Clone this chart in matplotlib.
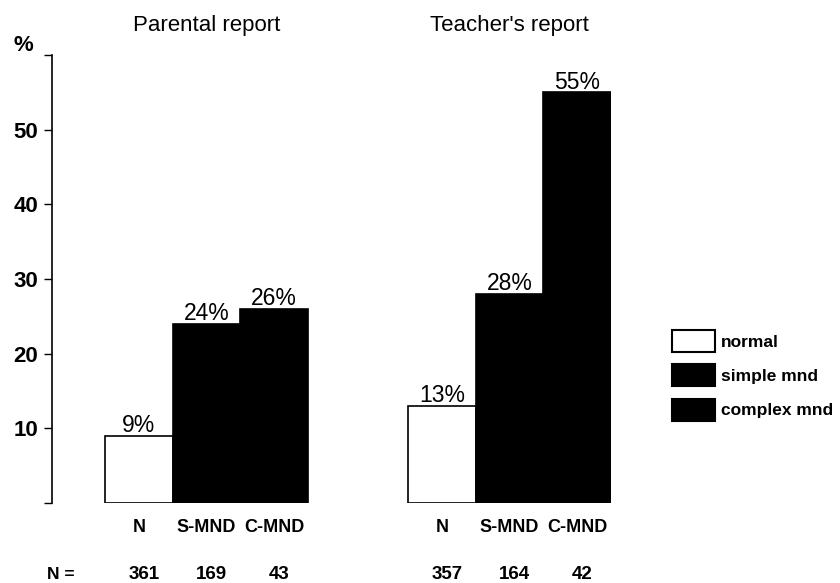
import matplotlib
matplotlib.use('Agg')
import matplotlib.pyplot as plt
from matplotlib.patches import Patch

plt.rcParams['font.family'] = ['Liberation Sans', 'DejaVu Sans']

reports = ['Parental report', "Teacher's report"]
categories = ['N', 'S-MND', 'C-MND']
parent_pct = [9, 24, 26]
teacher_pct = [13, 28, 55]
parent_n = [361, 169, 43]
teacher_n = [357, 164, 42]
legend_labels = ['normal', 'simple mnd', 'complex mnd']

colors = ['white', 'black', 'black']
group_gap = 4.476  # offset of second group in bar widths

fig = plt.figure(figsize=(8.4, 5.83), dpi=100)
ax = fig.add_axes([52/840, 80/583, (611-52)/840, (503-55)/583])

for g, (vals, ns) in enumerate([(parent_pct, parent_n), (teacher_pct, teacher_n)]):
    xs = [g*group_gap + i for i in range(len(vals))]
    ax.bar(xs, vals, width=1.0, color=colors, edgecolor='black', linewidth=1.2)
    for x, v, cat, n in zip(xs, vals, categories, ns):
        ax.text(x, v - 0.2, f'{v}%', ha='center', va='bottom', fontsize=16.5)
        ax.text(x, -3.3, cat, ha='center', va='center', fontsize=13, fontweight='bold')
        ax.text(x + 0.08, -9.6, str(n), ha='center', va='center', fontsize=13.5, fontweight='bold')
    ax.text(xs[1], 63.2, reports[g], ha='center', va='baseline', fontsize=16)

ax.text(0.016, -9.6, 'N =', transform=ax.get_yaxis_transform(), ha='center', va='center',
        fontsize=12.5, fontweight='bold')
ax.text(-0.052, 61.3, '%', transform=ax.get_yaxis_transform(), ha='center', va='center',
        fontsize=16, fontweight='bold')

ax.set_xlim(-1.283, 6.976)
ax.set_ylim(0, 60)
ax.set_yticks([0, 10, 20, 30, 40, 50, 60])
ax.set_yticklabels(['', '10', '20', '30', '40', '50', ''], fontsize=16, fontweight='bold')
ax.tick_params(axis='y', direction='out', length=6, width=1.0, pad=4)
ax.set_xticks([])
for s in ['top', 'right', 'bottom']:
    ax.spines[s].set_visible(False)
ax.spines['left'].set_linewidth(1.2)

handles = [Patch(facecolor=c, edgecolor='black', linewidth=1.5) for c in colors]
fig.legend(handles, legend_labels, loc='upper left', bbox_to_anchor=(672/840, 1 - 330/583),
           frameon=False, prop={'size': 12.5, 'weight': 'bold'}, handlelength=2.5,
           handleheight=1.55, labelspacing=0.73, handletextpad=0.3, borderpad=0,
           borderaxespad=0)

fig.savefig('out.png', dpi=100)
